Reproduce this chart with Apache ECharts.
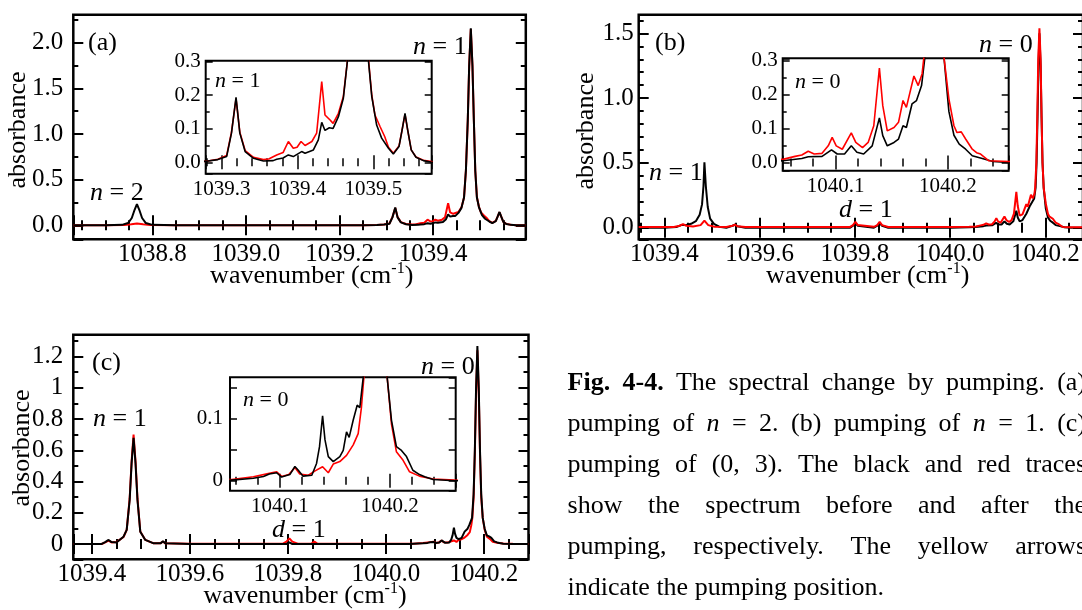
<!DOCTYPE html>
<html>
<head>
<meta charset="utf-8">
<script src="https://cdn.jsdelivr.net/npm/echarts@6/dist/echarts.min.js"></script>
<style>
html, body { margin: 0; padding: 0; background: #fff; }
#chart { width: 1082px; height: 610px; }
</style>
</head>
<body>
<div id="chart"></div>
<script>
// spectra: [wavenumber, absorbance]
var aBlack = [[1038.631,0],[1038.70,0],[1038.735,0.005],[1038.748,0.025],[1038.756,0.08],[1038.762,0.17],[1038.767,0.233],[1038.772,0.17],[1038.778,0.08],[1038.786,0.025],[1038.80,0.005],[1038.85,0],[1039.0,0],[1039.15,0],[1039.25,0.002],[1039.28,0.003],[1039.295,0.008],[1039.3066,0.017],[1039.313,0.087],[1039.319,0.194],[1039.324,0.087],[1039.331,0.032],[1039.342,0.012],[1039.355,0.004],[1039.368,0.005],[1039.3726,0.009],[1039.381,0.013],[1039.388,0.022],[1039.3945,0.017],[1039.4055,0.032],[1039.41,0.027],[1039.421,0.037],[1039.4275,0.067],[1039.432,0.119],[1039.4363,0.095],[1039.442,0.103],[1039.447,0.101],[1039.454,0.136],[1039.4605,0.191],[1039.466,0.305],[1039.470,0.6],[1039.474,1.15],[1039.477,1.75],[1039.4805,2.157],[1039.484,1.75],[1039.487,1.15],[1039.490,0.6],[1039.4935,0.305],[1039.498,0.196],[1039.5044,0.111],[1039.511,0.072],[1039.52,0.042],[1039.5264,0.025],[1039.5339,0.047],[1039.538,0.097],[1039.5418,0.146],[1039.5453,0.097],[1039.55,0.037],[1039.5563,0.015],[1039.566,0.005],[1039.577,0],[1039.598,0]];
var aRed = [[1038.631,0],[1038.70,0],[1038.74,0.004],[1038.755,0.012],[1038.767,0.02],[1038.78,0.012],[1038.795,0.004],[1038.85,0],[1039.0,0],[1039.15,0.001],[1039.25,0.002],[1039.28,0.003],[1039.295,0.009],[1039.3066,0.02],[1039.313,0.09],[1039.319,0.19],[1039.324,0.09],[1039.331,0.035],[1039.342,0.015],[1039.355,0.008],[1039.362,0.01],[1039.3726,0.022],[1039.381,0.029],[1039.388,0.062],[1039.3945,0.042],[1039.3995,0.045],[1039.4047,0.062],[1039.41,0.05],[1039.419,0.062],[1039.4253,0.087],[1039.432,0.241],[1039.4363,0.141],[1039.443,0.126],[1039.447,0.116],[1039.454,0.146],[1039.4605,0.196],[1039.466,0.305],[1039.470,0.6],[1039.474,1.15],[1039.477,1.74],[1039.4805,2.15],[1039.484,1.74],[1039.487,1.15],[1039.490,0.6],[1039.4935,0.31],[1039.498,0.2],[1039.5022,0.141],[1039.509,0.106],[1039.515,0.077],[1039.52,0.045],[1039.5264,0.027],[1039.5339,0.049],[1039.538,0.097],[1039.5418,0.143],[1039.5453,0.097],[1039.55,0.037],[1039.5563,0.016],[1039.566,0.006],[1039.577,0.002],[1039.598,0]];

var bBlack = [[1039.346,0],[1039.40,0],[1039.425,0.005],[1039.435,0.02],[1039.439,0.028],[1039.444,0.02],[1039.456,0.03],[1039.466,0.05],[1039.474,0.1],[1039.479,0.18],[1039.482,0.32],[1039.484,0.504],[1039.487,0.32],[1039.491,0.16],[1039.496,0.07],[1039.504,0.03],[1039.515,0.008],[1039.53,0],[1039.543,0.015],[1039.548,0.023],[1039.553,0.012],[1039.57,0],[1039.79,0],[1039.796,0.015],[1039.801,0.035],[1039.806,0.015],[1039.84,0],[1039.847,0.015],[1039.852,0.035],[1039.857,0.015],[1039.87,0],[1040.0,0],[1040.04,0.003],[1040.053,0.005],[1040.07,0.012],[1040.0757,0.017],[1040.088,0.018],[1040.0964,0.037],[1040.1015,0.025],[1040.108,0.025],[1040.114,0.049],[1040.119,0.03],[1040.125,0.025],[1040.1326,0.049],[1040.139,0.131],[1040.142,0.079],[1040.146,0.049],[1040.152,0.059],[1040.156,0.069],[1040.16,0.108],[1040.163,0.103],[1040.168,0.172],[1040.172,0.182],[1040.1765,0.226],[1040.1795,0.31],[1040.1815,0.5],[1040.1835,0.85],[1040.1855,1.25],[1040.1875,1.50],[1040.19,1.25],[1040.192,0.85],[1040.194,0.5],[1040.1964,0.31],[1040.2008,0.15],[1040.2053,0.08],[1040.21,0.054],[1040.2157,0.039],[1040.2216,0.02],[1040.2305,0.012],[1040.24,0.003],[1040.254,0],[1040.279,0]];
var bRed = [[1039.346,0.005],[1039.42,0.005],[1039.432,0.015],[1039.439,0.028],[1039.446,0.015],[1039.46,0.01],[1039.476,0.02],[1039.484,0.054],[1039.492,0.02],[1039.505,0.008],[1039.53,0.005],[1039.543,0.015],[1039.548,0.023],[1039.553,0.012],[1039.57,0.005],[1039.70,0.005],[1039.79,0.006],[1039.796,0.02],[1039.801,0.046],[1039.806,0.02],[1039.84,0.007],[1039.847,0.02],[1039.852,0.046],[1039.857,0.02],[1039.87,0.006],[1040.0,0.006],[1040.04,0.008],[1040.054,0.01],[1040.064,0.018],[1040.070,0.022],[1040.0757,0.033],[1040.081,0.025],[1040.088,0.027],[1040.0935,0.049],[1040.097,0.074],[1040.1006,0.049],[1040.106,0.039],[1040.114,0.087],[1040.118,0.059],[1040.124,0.044],[1040.129,0.059],[1040.134,0.108],[1040.139,0.277],[1040.142,0.167],[1040.146,0.093],[1040.152,0.103],[1040.156,0.118],[1040.16,0.182],[1040.163,0.162],[1040.1697,0.254],[1040.1735,0.226],[1040.177,0.261],[1040.1786,0.31],[1040.181,0.5],[1040.183,0.85],[1040.185,1.3],[1040.1875,1.54],[1040.19,1.3],[1040.192,0.85],[1040.194,0.5],[1040.1964,0.31],[1040.2008,0.187],[1040.2053,0.108],[1040.208,0.088],[1040.2118,0.09],[1040.2157,0.069],[1040.2216,0.039],[1040.2254,0.029],[1040.229,0.025],[1040.2364,0.005],[1040.254,0.003],[1040.279,0.003]];

var cBlack = [[1039.362,0],[1039.42,0],[1039.427,0.012],[1039.434,0.026],[1039.44,0.012],[1039.45,0.01],[1039.4645,0.047],[1039.471,0.09],[1039.477,0.28],[1039.481,0.516],[1039.485,0.68],[1039.489,0.516],[1039.493,0.28],[1039.4987,0.079],[1039.509,0.026],[1039.526,0.004],[1039.54,0.004],[1039.545,0.017],[1039.55,0.004],[1039.60,0],[1039.797,0],[1039.803,0.01],[1039.809,0],[1040.0,0],[1040.05,0],[1040.056,0.001],[1040.0758,0.004],[1040.085,0.007],[1040.0903,0.011],[1040.097,0.013],[1040.1015,0.006],[1040.109,0.01],[1040.1136,0.023],[1040.1167,0.017],[1040.121,0.0075],[1040.129,0.009],[1040.1333,0.028],[1040.136,0.055],[1040.1388,0.105],[1040.141,0.066],[1040.144,0.039],[1040.1485,0.031],[1040.1545,0.039],[1040.1576,0.049],[1040.1606,0.079],[1040.163,0.07],[1040.1667,0.098],[1040.1703,0.122],[1040.1727,0.118],[1040.1758,0.167],[1040.179,0.32],[1040.1815,0.6],[1040.184,1.0],[1040.1867,1.268],[1040.1895,1.0],[1040.192,0.6],[1040.1945,0.32],[1040.1976,0.167],[1040.2015,0.098],[1040.206,0.055],[1040.2106,0.049],[1040.2152,0.039],[1040.221,0.017],[1040.227,0.01],[1040.2318,0.0065],[1040.2394,0.002],[1040.259,0],[1040.291,0]];
var cRed = [[1039.362,0],[1039.42,0],[1039.427,0.01],[1039.434,0.022],[1039.44,0.01],[1039.45,0.012],[1039.4645,0.045],[1039.471,0.09],[1039.477,0.29],[1039.481,0.53],[1039.485,0.70],[1039.489,0.53],[1039.493,0.29],[1039.4987,0.08],[1039.509,0.026],[1039.526,0.004],[1039.54,0.005],[1039.545,0.015],[1039.55,0.004],[1039.60,0.002],[1039.79,0.002],[1039.797,0.015],[1039.803,0.036],[1039.809,0.015],[1039.82,0.002],[1039.848,0.003],[1039.854,0.015],[1039.86,0.003],[1040.0,0.002],[1040.05,0.002],[1040.056,0.002],[1040.0758,0.0065],[1040.0903,0.012],[1040.097,0.0145],[1040.1015,0.007],[1040.108,0.01],[1040.1136,0.0215],[1040.118,0.011],[1040.1258,0.009],[1040.132,0.016],[1040.1388,0.0226],[1040.144,0.013],[1040.1485,0.027],[1040.1545,0.031],[1040.1606,0.041],[1040.1667,0.058],[1040.1712,0.076],[1040.1742,0.119],[1040.1764,0.167],[1040.179,0.3],[1040.1815,0.58],[1040.184,0.97],[1040.1867,1.24],[1040.1895,0.97],[1040.192,0.58],[1040.1945,0.3],[1040.1976,0.167],[1040.2015,0.092],[1040.206,0.047],[1040.2121,0.033],[1040.218,0.0145],[1040.227,0.0075],[1040.2394,0.003],[1040.259,0.001],[1040.291,0]];

var FONT = "'Liberation Serif', 'Times New Roman', serif";

function fix1(v) { return v.toFixed(1); }
function plain(v) { return String(+v.toFixed(2)); }
function onlyTenths(v) {
  if (Math.abs(v) < 1e-9) return '0';
  if (Math.abs(v - 0.1) < 1e-9) return '0.1';
  return '';
}

// one entry per plot box: main panels and their insets
var panels = [
  { box: [73.3, 14.7, 452.5, 224.6], x: [1038.631, 1039.598], y: [-0.153, 2.306], xs: 5, ys: 5, xm: 4, ym: 2,
    black: aBlack, red: aRed, redTop: false, yFmt: fix1, yMargin: 10, main: true },
  { box: [205.7, 60.7, 226, 113], x: [1039.279, 1039.577], y: [-0.034, 0.303], xs: 3, ys: 3, xm: 5, ym: 2,
    black: aBlack, red: aRed, redTop: false, yFmt: fix1, yMargin: 5, main: false },
  { box: [638.7, 14.7, 444.3, 224.6], x: [1039.346, 1040.279], y: [-0.0895, 1.644], xs: 4, ys: 3, xm: 4, ym: 5,
    black: bBlack, red: bRed, redTop: true, yFmt: fix1, yMargin: 5, main: true },
  { box: [782.7, 58.3, 226, 112.4], x: [1040.053, 1040.254], y: [-0.024, 0.306], xs: 2, ys: 3, xm: 5, ym: 2,
    black: bBlack, red: bRed, redTop: true, yFmt: fix1, yMargin: 5, main: false },
  { box: [73.3, 334.7, 455.2, 224.6], x: [1039.362, 1040.291], y: [-0.098, 1.34], xs: 4, ys: 7, xm: 4, ym: 2,
    black: cBlack, red: cRed, redTop: false, yFmt: plain, yMargin: 10, main: true },
  { box: [230, 377.3, 225.7, 113.4], x: [1040.0545, 1040.26], y: [-0.016, 0.167], xs: 2, ys: 4, xm: 5, ym: 1,
    black: cBlack, red: cRed, redTop: false, yFmt: onlyTenths, yMargin: 7, main: false }
];

var grids = [], xAxes = [], yAxes = [], series = [];

panels.forEach(function (p, gi) {
  var fs = p.main ? 25 : 21;
  var tickLen = p.main ? 10 : 7;
  var minorLen = p.main ? 5 : 4;
  var tickStyle = { color: '#000', width: p.main ? 2 : 1.5 };
  grids.push({
    left: p.box[0], top: p.box[1], width: p.box[2], height: p.box[3],
    show: true, borderColor: '#000', borderWidth: p.main ? 2.5 : 2,
    backgroundColor: 'transparent', containLabel: false, outerBoundsMode: 'none'
  });
  ['bottom', 'top'].forEach(function (pos) {
    xAxes.push({
      type: 'value', gridIndex: gi, position: pos, min: p.x[0], max: p.x[1], splitNumber: p.xs,
      axisLine: { show: false },
      axisTick: { show: true, inside: true, length: tickLen, lineStyle: tickStyle },
      minorTick: { show: true, splitNumber: p.xm, length: minorLen, lineStyle: tickStyle },
      splitLine: { show: false },
      axisLabel: {
        show: pos === 'bottom', margin: p.main ? 3 : 5, fontFamily: FONT, fontSize: fs, color: '#000',
        showMinLabel: false, showMaxLabel: false, hideOverlap: false, formatter: fix1
      }
    });
  });
  ['left', 'right'].forEach(function (pos) {
    yAxes.push({
      type: 'value', gridIndex: gi, position: pos, min: p.y[0], max: p.y[1], splitNumber: p.ys,
      axisLine: { show: false },
      axisTick: { show: true, inside: true, length: tickLen, lineStyle: tickStyle },
      minorTick: { show: p.ym > 1, splitNumber: p.ym, length: minorLen, lineStyle: tickStyle },
      splitLine: { show: false },
      axisLabel: {
        show: pos === 'left', margin: p.yMargin, fontFamily: FONT, fontSize: fs, color: '#000',
        showMinLabel: false, showMaxLabel: false, hideOverlap: false, formatter: p.yFmt
      }
    });
  });
  var lw = p.main ? 2 : 1.6;
  series.push({
    type: 'line', name: 'before', xAxisIndex: 2 * gi, yAxisIndex: 2 * gi, data: p.black,
    symbol: 'none', showSymbol: false, clip: true, animation: false,
    lineStyle: { color: '#000', width: lw }, z: p.redTop ? 2 : 3
  });
  series.push({
    type: 'line', name: 'after', xAxisIndex: 2 * gi, yAxisIndex: 2 * gi, data: p.red,
    symbol: 'none', showSymbol: false, clip: true, animation: false,
    lineStyle: { color: '#ff0000', width: lw }, z: p.redTop ? 3 : 2
  });
});

// text on the figure
function note(x, y, txt, size) {
  return {
    type: 'text', x: x, y: y, z: 10,
    style: {
      text: txt, font: size + 'px ' + FONT, fill: '#000', textAlign: 'left', textVerticalAlign: 'middle',
      rich: { i: { font: 'italic ' + size + 'px ' + FONT, fill: '#000' } }
    }
  };
}
function yName(x, y) {
  return {
    type: 'text', x: x, y: y, rotation: Math.PI / 2, z: 10,
    style: { text: 'absorbance', font: '26px ' + FONT, fill: '#000', textAlign: 'center', textVerticalAlign: 'middle' }
  };
}
function xName(x, y) {
  return {
    type: 'text', x: x, y: y, z: 10,
    style: {
      text: '{r|wavenumber (cm}{s|-1}{r|)}', textAlign: 'center', textVerticalAlign: 'middle', fill: '#000',
      rich: {
        r: { font: '26px ' + FONT, fill: '#000', lineHeight: 30, verticalAlign: 'middle' },
        s: { font: '16px ' + FONT, fill: '#000', lineHeight: 16, verticalAlign: 'top' }
      }
    }
  };
}

var graphics = [
  yName(18.3, 130), yName(586, 131), yName(21.7, 448),
  xName(311.7, 276), xName(867.7, 276), xName(305, 596),
  note(88, 43, '(a)', 26), note(90, 193, '{i|n} = 2', 26), note(413, 47, '{i|n} = 1', 26), note(215, 81, '{i|n} = 1', 22),
  note(655, 43, '(b)', 26), note(979, 45, '{i|n} = 0', 26), note(649, 173, '{i|n} = 1', 26), note(839, 210, '{i|d} = 1', 26),
  note(795, 82, '{i|n} = 0', 22),
  note(92, 363, '(c)', 26), note(421, 367, '{i|n} = 0', 26), note(93, 419, '{i|n} = 1', 26), note(272, 530, '{i|d} = 1', 26),
  note(243, 400, '{i|n} = 0', 22)
];

// caption, justified line by line
var captionLines = [
  [['b', 'Fig.'], ['b', '4-4.'], ['r', 'The'], ['r', 'spectral'], ['r', 'change'], ['r', 'by'], ['r', 'pumping.'], ['r', '(a)']],
  [['r', 'pumping'], ['r', 'of'], ['i', 'n'], ['r', '='], ['r', '2.'], ['r', '(b)'], ['r', 'pumping'], ['r', 'of'], ['i', 'n'], ['r', '='], ['r', '1.'], ['r', '(c)']],
  [['r', 'pumping'], ['r', 'of'], ['r', '(0,'], ['r', '3).'], ['r', 'The'], ['r', 'black'], ['r', 'and'], ['r', 'red'], ['r', 'traces']],
  [['r', 'show'], ['r', 'the'], ['r', 'spectrum'], ['r', 'before'], ['r', 'and'], ['r', 'after'], ['r', 'the']],
  [['r', 'pumping,'], ['r', 'respectively.'], ['r', 'The'], ['r', 'yellow'], ['r', 'arrows']],
  [['r', 'indicate'], ['r', 'the'], ['r', 'pumping'], ['r', 'position.']]
];
var capFont = { r: '26px ' + FONT, b: 'bold 26px ' + FONT, i: 'italic 26px ' + FONT };
var ctx = document.createElement('canvas').getContext('2d');
function textW(font, s) { ctx.font = font; return ctx.measureText(s).width; }
var capLeft = 567.6, capRight = 1086, capTop = 383, capStep = 41;
captionLines.forEach(function (words, li) {
  var widths = words.map(function (w) { return textW(capFont[w[0]], w[1]); });
  var total = widths.reduce(function (s, v) { return s + v; }, 0);
  var last = li === captionLines.length - 1;
  var gap = last ? textW(capFont.r, ' ') : (capRight - capLeft - total) / (words.length - 1);
  var x = capLeft;
  words.forEach(function (w, k) {
    graphics.push({
      type: 'text', x: x, y: capTop + li * capStep, z: 10,
      style: { text: w[1], font: capFont[w[0]], fill: '#000', textAlign: 'left', textVerticalAlign: 'middle' }
    });
    x += widths[k] + gap;
  });
});

var chart = echarts.init(document.getElementById('chart'), null, { renderer: 'canvas' });
chart.setOption({
  animation: false,
  backgroundColor: '#fff',
  grid: grids,
  xAxis: xAxes,
  yAxis: yAxes,
  series: series,
  graphic: graphics
});
</script>
</body>
</html>
